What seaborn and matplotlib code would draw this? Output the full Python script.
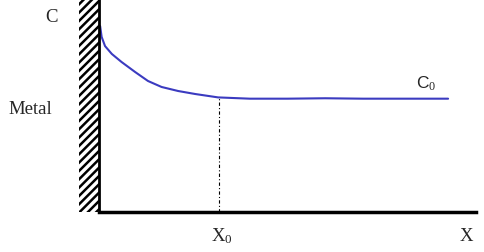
import matplotlib
matplotlib.use("Agg")
import matplotlib.pyplot as plt
import seaborn as sns
import pandas as pd

# concentration profile
x_vals = [0.03, 0.07, 0.16, 0.34, 0.60, 0.96, 1.30, 1.66, 2.10, 2.55, 3.16, 4.0, 5.0, 6.0, 7.0, 8.0, 9.26]
c_vals = [0.873, 0.822, 0.779, 0.742, 0.704, 0.657, 0.615, 0.587, 0.568, 0.554, 0.538,
          0.532, 0.532, 0.534, 0.532, 0.532, 0.532]
x0 = 3.18
c_x0 = 0.538

sns.set_theme(style="white")
plt.rcParams['font.family'] = ['Liberation Serif', 'DejaVu Serif']
plt.rcParams['mathtext.fontset'] = 'custom'
plt.rcParams['mathtext.rm'] = 'Liberation Serif'
plt.rcParams['mathtext.it'] = 'Liberation Serif'
plt.rcParams['hatch.linewidth'] = 1.8
plt.rcParams['hatch.color'] = 'black'

fig = plt.figure(figsize=(4.85, 2.53), dpi=100)
ax = fig.add_axes([79/485, 40/253, 397/485, 213/253])
ax.set_xlim(-20/37.7, 10)
ax.set_ylim(0, 1)

df = pd.DataFrame({"x": x_vals, "c": c_vals})
sns.lineplot(data=df, x="x", y="c", ax=ax, color="#3b3bc0", linewidth=1.5)

# metal wall
ax.axvspan(-20/37.7, 0, ymin=0, ymax=1, facecolor="white", edgecolor="black",
           linewidth=0, hatch="////", zorder=3)
ax.axvline(0, color="black", linewidth=2, zorder=4)
ax.plot([x0, x0], [0, c_x0], color="black", linewidth=0.8, linestyle=(0, (3, 2, 1, 2)))

for s in ["top", "right", "left"]:
    ax.spines[s].set_visible(False)
ax.spines["bottom"].set_bounds(0, 10)
ax.spines["bottom"].set_color("black")
ax.spines["bottom"].set_linewidth(2.5)
ax.set_xticks([])
ax.set_yticks([])
ax.set_xlabel("")
ax.set_ylabel("")

fig.text(52/485, 1 - 18/253, "C", fontsize=13.5, ha="center", va="center")
fig.text(30/485, 1 - 110/253, "Metal", fontsize=13.5, ha="center", va="center")
fig.text(222/485, 1 - 236/253, r"X$_\mathrm{0}$", fontsize=13.5, ha="center", va="center")
fig.text(466/485, 1 - 237/253, "X", fontsize=13.5, ha="center", va="center")
fig.text(426/485, 1 - 84/253, r"C$_\mathrm{0}$", fontsize=12.5, ha="center", va="center",
         family=['Liberation Sans', 'DejaVu Sans'])

fig.savefig("out.png", dpi=100, facecolor="white")
